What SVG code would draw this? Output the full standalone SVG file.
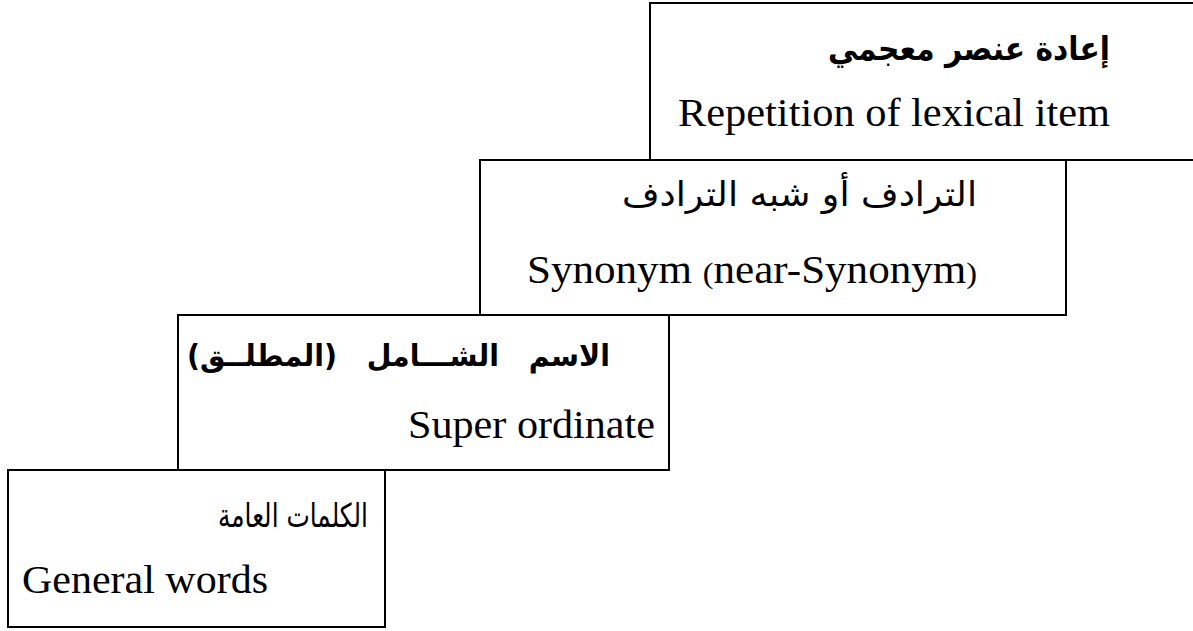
<svg xmlns="http://www.w3.org/2000/svg" width="1193" height="631" viewBox="0 0 1193 631">
<style>
.box{fill:#fff;stroke:#000;stroke-width:2}
.en{font-family:"Liberation Serif","DejaVu Serif",serif;font-size:40px;fill:#000}
.ar{font-family:"DejaVu Sans","Noto Sans",sans-serif;font-size:30px;fill:#000}
.arb{font-weight:bold}
.par{font-size:30px}
</style>
<rect width="1193" height="631" fill="#fff"/>
<g id="connectors"></g>
<g id="node-repetition">
<rect class="box" x="650" y="3" width="560" height="157"/>
<text class="ar arb" x="1110" y="60" direction="rtl" text-anchor="start" style="font-size:33px" textLength="282" lengthAdjust="spacingAndGlyphs">إعادة عنصر معجمي</text>
<text class="en" x="678" y="126" textLength="432" lengthAdjust="spacingAndGlyphs">Repetition of lexical item</text>
</g>
<g id="node-synonym">
<rect class="box" x="480" y="160" width="586" height="155"/>
<text class="ar" x="977" y="206" direction="rtl" text-anchor="start" style="font-size:34px" textLength="355" lengthAdjust="spacingAndGlyphs">الترادف أو شبه الترادف</text>
<text class="en" x="527" y="283" textLength="450" lengthAdjust="spacingAndGlyphs">Synonym <tspan class="par">(</tspan>near-Synonym<tspan class="par">)</tspan></text>
</g>
<g id="node-superordinate">
<rect class="box" x="178" y="315" width="491" height="155"/>
<text class="ar arb" x="610" y="366" direction="rtl" text-anchor="start" xml:space="preserve" textLength="423" lengthAdjust="spacingAndGlyphs">الاسم   الشـــامل   (المطلــق)</text>
<text class="en" x="655" y="438" text-anchor="end" textLength="247" lengthAdjust="spacingAndGlyphs">Super ordinate</text>
</g>
<g id="node-general">
<rect class="box" x="8" y="470" width="377" height="157"/>
<text class="ar" x="368" y="527" direction="rtl" text-anchor="start" style="font-size:33px" textLength="150" lengthAdjust="spacingAndGlyphs">الكلمات العامة</text>
<text class="en" x="22" y="593" textLength="246" lengthAdjust="spacingAndGlyphs">General words</text>
</g>
</svg>
